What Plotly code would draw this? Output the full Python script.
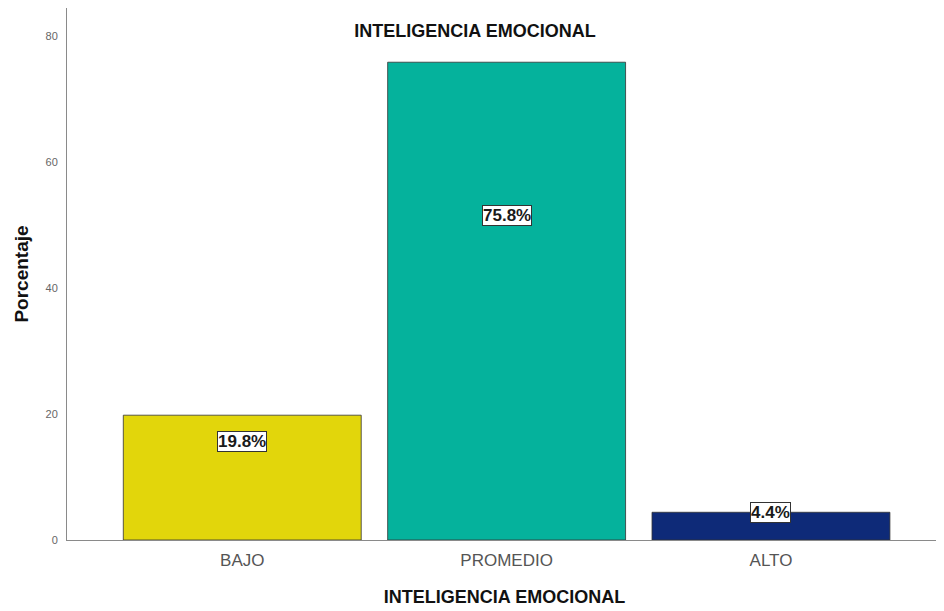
import plotly.graph_objects as go

categories = ["BAJO", "PROMEDIO", "ALTO"]
values = [19.8, 75.8, 4.4]
value_labels = ["19.8%", "75.8%", "4.4%"]
bar_colors = ["#E2D60B", "#05B29C", "#0E2A78"]
y_ticks = [0, 20, 40, 60, 80]

# label vertical placement (as fraction of bar height), style only
label_frac = [0.79, 0.68, 1.0]

FONT = "Liberation Sans, Arial, sans-serif"

fig = go.Figure()
fig.add_trace(go.Bar(
    x=categories, y=values,
    marker=dict(color=bar_colors, line=dict(color="#333333", width=0.8)),
    width=0.9, showlegend=False, hoverinfo="skip",
))

for c, v, t, f in zip(categories, values, value_labels, label_frac):
    fig.add_annotation(
        x=c, y=v * f, xref="x", yref="y", text="<b>" + t + "</b>",
        showarrow=False, bgcolor="white", bordercolor="#333333", borderwidth=1,
        borderpad=0, font=dict(family=FONT, size=17, color="#1a1a1a"),
    )

fig.update_layout(
    width=944, height=611,
    margin=dict(l=59, r=10, t=0, b=79),
    plot_bgcolor="white", paper_bgcolor="white",
    title=dict(text="<b>INTELIGENCIA EMOCIONAL</b>", x=467 / 944, xanchor="center",
               y=1 - 23 / 611, yanchor="middle", yref="container",
               font=dict(family=FONT, size=18, color="#111111")),
    font=dict(family=FONT),
)
fig.update_xaxes(
    range=[-0.663, 2.647], showline=True, linecolor="#8a8a8a", linewidth=1,
    showgrid=False, ticks="", ticklabelstandoff=5,
    tickfont=dict(size=17, color="#555555"),
    title=dict(text="<b>INTELIGENCIA EMOCIONAL</b>", standoff=20,
               font=dict(size=18, color="#111111")),
)
fig.update_yaxes(
    range=[0, 84.4], tickvals=y_ticks, showline=True, linecolor="#8a8a8a", linewidth=1,
    showgrid=False, zeroline=False, ticks="", ticklabelstandoff=6,
    tickfont=dict(size=11, color="#666666"),
    title=dict(text="<b>Porcentaje</b>", standoff=11, font=dict(size=19, color="#111111")),
)

fig.write_html("out.html")
